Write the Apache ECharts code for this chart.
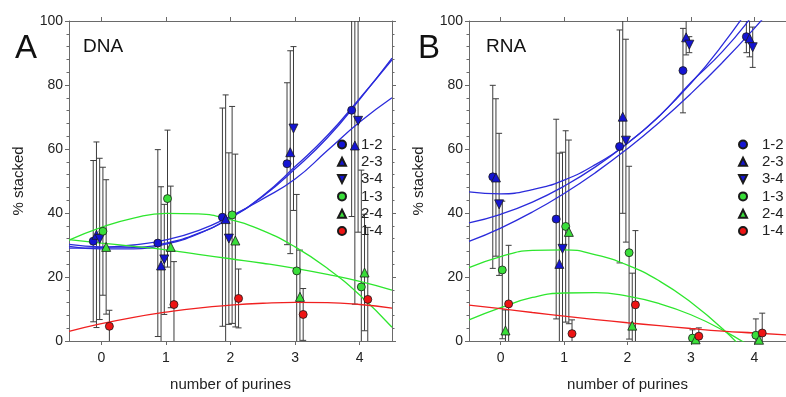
<!DOCTYPE html>
<html>
<head>
<meta charset="utf-8">
<script src="https://cdn.jsdelivr.net/npm/echarts@6/dist/echarts.min.js"></script>
<style>
html, body { margin: 0; padding: 0; background: #fff; }
#chart { width: 786px; height: 397px; }
</style>
</head>
<body>
<div id="chart"></div>
<script>
// x groups and the small sideways shift of each pair inside a group
const purines = [0, 1, 2, 3, 4]
const offsets = [-0.125, -0.075, -0.025, 0.025, 0.075, 0.125]
const pairs = ['1-2', '2-3', '3-4', '1-3', '2-4', '1-4']
const yTicks = [0, 20, 40, 60, 80, 100]

// DNA means and sd, one value per number of purines
const dna12 = [31.2, 30.6, 38.7, 55.4, 72.1]
const dna23 = [33.2, 23.6, 38.1, 59.0, 61.1]
const dna34 = [31.9, 25.5, 32.0, 66.4, 68.8]
const dna13 = [34.3, 44.5, 39.4, 21.9, 16.9]
const dna24 = [29.4, 29.4, 31.4, 13.8, 21.4]
const dna14 = [4.6, 11.4, 13.3, 8.3, 13.0]
const dna12Sd = [25.2, 29.2, 34.1, 25.3, 33.2]
const dna23Sd = [29.0, 24.6, 38.8, 31.7, 49.6]
const dna34Sd = [25.2, 17.2, 26.8, 25.6, 34.8]
const dna13Sd = [20.0, 21.4, 33.9, 23.9, 36.5]
const dna24Sd = [21.0, 19.0, 27.0, 14.6, 18.2]
const dna14Sd = [5.0, 13.4, 9.2, 8.1, 22.5]

// RNA means and sd
const rna12 = [51.3, 38.1, 60.8, 84.5, 95.1]
const rna23 = [51.1, 24.1, 70.1, 94.9, 94.6]
const rna34 = [42.7, 28.8, 62.6, 92.6, 91.8]
const rna13 = [22.2, 35.8, 27.6, 0.9, 1.8]
const rna24 = [3.3, 34.1, 4.8, 0.5, 0.4]
const rna14 = [11.6, 2.3, 11.3, 1.5, 2.5]
const rna12Sd = [28.6, 31.2, 36.4, 13.2, 5.0]
const rna23Sd = [24.6, 34.6, 30.2, 5.5, 5.8]
const rna34Sd = [22.2, 30.2, 31.7, 2.5, 6.3]
const rna13Sd = [21.5, 29.9, 27.0, 2.6, 5.1]
const rna24Sd = [6.4, 28.7, 16.4, 1.0, 1.0]
const rna14Sd = [18.3, 4.3, 23.2, 2.6, 6.2]

const fitX = [-0.5, 0, 0.5, 1, 1.5, 2, 2.5, 3, 3.5, 4, 4.5]
const dnaBlueFit1 = [30.2, 29.4, 29.3, 30.6, 33.6, 38.5, 45.2, 53.8, 63.5, 75.5, 88.4]
const dnaBlueFit2 = [29.6, 28.8, 28.8, 30.3, 33.5, 38.6, 45.4, 54.5, 64.2, 75.8, 87.9]
const dnaBlueFit3 = [29.0, 29.2, 30.0, 31.6, 34.5, 39.0, 44.4, 50.6, 59.5, 68.4, 76.0]
const dnaGreenFit1 = [31.5, 35.5, 38.4, 39.9, 39.7, 37.9, 34.5, 29.4, 22.7, 14.4, 4.3]
const dnaGreenFit2 = [31.7, 30.6, 29.6, 28.5, 27.1, 25.7, 24.3, 22.7, 20.8, 18.6, 15.9]
const dnaRedFit = [3.0, 5.4, 7.4, 9.0, 10.3, 11.2, 11.8, 12.1, 12.0, 11.4, 10.3]
const rnaBlueFit1 = [46.6, 46.0, 47.3, 50.3, 55.2, 61.8, 70.3, 80.5, 92.6, 106.4, 122.0]
const rnaBlueFit2 = [36.9, 39.6, 43.4, 48.4, 54.5, 61.8, 70.2, 80.8, 90.5, 102.4, 115.4]
const rnaBlueFit3 = [31.1, 35.3, 40.3, 46.1, 52.7, 60.1, 68.3, 77.3, 87.1, 97.7, 109.1]
const rnaGreenFit1 = [22.9, 26.4, 28.3, 28.5, 26.9, 23.7, 18.8, 12.1, 3.8, -6.2, -17.9]
const rnaGreenFit2 = [6.6, 10.4, 13.6, 15.0, 15.1, 14.0, 11.7, 8.2, 3.4, -2.5, -9.7]
const rnaRedFit = [11.2, 10.1, 8.9, 7.8, 6.7, 5.7, 4.8, 3.9, 3.1, 2.5, 1.9]

const BLUE = '#1414d2'
const GREEN = '#3ade3a'
const RED = '#ee1414'
const BLUE_LINE = '#2b2bdb'
const GREEN_LINE = '#2ee62e'
const RED_LINE = '#f02020'
const FONT = "'Liberation Sans', Arial, sans-serif"
const AXIS_COLOR = '#6a6a6a'
const DOWN_TRIANGLE = 'path://M0,0L10,0L5,10Z'

const markStyle = {
  '1-2': { color: BLUE, symbol: 'circle', rotate: 0 },
  '2-3': { color: BLUE, symbol: 'triangle', rotate: 0 },
  '3-4': { color: BLUE, symbol: 'triangle', rotate: 180 },
  '1-3': { color: GREEN, symbol: 'circle', rotate: 0 },
  '2-4': { color: GREEN, symbol: 'triangle', rotate: 0 },
  '1-4': { color: RED, symbol: 'circle', rotate: 0 }
}

const dnaMeans = [dna12, dna23, dna34, dna13, dna24, dna14]
const dnaSds = [dna12Sd, dna23Sd, dna34Sd, dna13Sd, dna24Sd, dna14Sd]
const rnaMeans = [rna12, rna23, rna34, rna13, rna24, rna14]
const rnaSds = [rna12Sd, rna23Sd, rna34Sd, rna13Sd, rna24Sd, rna14Sd]

const errorBar = (params, api) => {
  const x = api.value(0)
  const hi = api.coord([x, api.value(2)])
  const lo = api.coord([x, api.value(1)])
  const half = 3
  const style = { stroke: '#3c3c3c', lineWidth: 1 }
  return {
    type: 'group',
    children: [
      { type: 'line', shape: { x1: hi[0], y1: hi[1], x2: lo[0], y2: lo[1] }, style },
      { type: 'line', shape: { x1: hi[0] - half, y1: hi[1], x2: hi[0] + half, y2: hi[1] }, style },
      { type: 'line', shape: { x1: lo[0] - half, y1: lo[1], x2: lo[0] + half, y2: lo[1] }, style }
    ]
  }
}

const panelSeries = (means, sds, fits, xIdx, yIdx) => {
  const bars = []
  pairs.forEach((p, k) => {
    purines.forEach((g, i) => {
      bars.push([g + offsets[k], means[k][i] - sds[k][i], means[k][i] + sds[k][i]])
    })
  })
  const out = [{
    type: 'custom',
    xAxisIndex: xIdx,
    yAxisIndex: yIdx,
    renderItem: errorBar,
    clip: true,
    silent: true,
    z: 1,
    encode: { x: 0, y: [1, 2] },
    data: bars
  }]
  fits.forEach(f => {
    out.push({
      type: 'line',
      xAxisIndex: xIdx,
      yAxisIndex: yIdx,
      smooth: true,
      showSymbol: false,
      silent: true,
      clip: true,
      z: 2,
      lineStyle: { color: f.color, width: 1.3 },
      data: fitX.map((x, i) => [x, f.values[i]])
    })
  })
  pairs.forEach((p, k) => {
    const s = markStyle[p]
    out.push({
      name: p,
      type: 'scatter',
      xAxisIndex: xIdx,
      yAxisIndex: yIdx,
      symbol: s.symbol,
      symbolRotate: s.rotate,
      symbolSize: s.symbol === 'circle' ? 8 : 9,
      z: 3,
      itemStyle: { color: s.color, borderColor: '#1a1a1a', borderWidth: 0.8, opacity: 1 },
      data: purines.map((g, i) => [g + offsets[k], means[k][i]])
    })
  })
  return out
}

const xBottom = (gridIndex) => ({
  type: 'value',
  gridIndex,
  min: -0.5,
  max: 4.5,
  name: 'number of purines',
  nameLocation: 'middle',
  nameGap: 36,
  nameTextStyle: { fontSize: 15, color: '#222', fontFamily: FONT },
  axisLine: { show: true, onZero: false, lineStyle: { color: AXIS_COLOR } },
  axisTick: { show: true, length: 4, customValues: purines, lineStyle: { color: AXIS_COLOR } },
  axisLabel: { customValues: purines, fontSize: 14, color: '#222', fontFamily: FONT, margin: 10 },
  splitLine: { show: false }
})
const xTop = (gridIndex) => ({
  type: 'value',
  gridIndex,
  position: 'top',
  min: -0.5,
  max: 4.5,
  axisLine: { show: true, onZero: false, lineStyle: { color: AXIS_COLOR } },
  axisTick: { show: true, length: 4, customValues: purines, lineStyle: { color: AXIS_COLOR } },
  axisLabel: { show: false },
  splitLine: { show: false }
})
const yLeft = (gridIndex) => ({
  type: 'value',
  gridIndex,
  min: 0,
  max: 100,
  interval: 20,
  name: '% stacked',
  nameLocation: 'middle',
  nameGap: 43,
  nameTextStyle: { fontSize: 15, color: '#222', fontFamily: FONT },
  axisLine: { show: true, onZero: false, lineStyle: { color: AXIS_COLOR } },
  axisTick: { show: true, length: 4, lineStyle: { color: AXIS_COLOR } },
  minorTick: { show: true, splitNumber: 5, length: 2.5, lineStyle: { color: AXIS_COLOR } },
  axisLabel: { fontSize: 14, color: '#222', fontFamily: FONT, margin: 6,
    customValues: yTicks },
  splitLine: { show: false }
})
const yRight = (gridIndex) => ({
  type: 'value',
  gridIndex,
  position: 'right',
  min: 0,
  max: 100,
  interval: 20,
  axisLine: { show: true, onZero: false, lineStyle: { color: AXIS_COLOR } },
  axisTick: { show: true, length: 4, lineStyle: { color: AXIS_COLOR } },
  minorTick: { show: true, splitNumber: 5, length: 2.5, lineStyle: { color: AXIS_COLOR } },
  axisLabel: { show: false },
  splitLine: { show: false }
})

const legendFor = (left) => ({
  orient: 'vertical',
  left,
  top: 132,
  itemWidth: 8,
  itemHeight: 8,
  itemGap: 2.3,
  selectedMode: false,
  data: pairs.map(p => p === '3-4' ? { name: p, icon: DOWN_TRIANGLE } : { name: p }),
  textStyle: { fontSize: 15, lineHeight: 15, color: '#222', fontFamily: FONT, padding: [0, 0, 0, 10] }
})

const chart = echarts.init(document.getElementById('chart'), null, { renderer: 'canvas' })
chart.setOption({
  animation: false,
  backgroundColor: '#fff',
  title: [
    { text: 'A', left: 10, top: 27, textStyle: { fontSize: 33, fontWeight: 'normal', color: '#111', fontFamily: FONT } },
    { text: 'DNA', left: 78, top: 32, textStyle: { fontSize: 19, fontWeight: 'normal', color: '#111', fontFamily: FONT } },
    { text: 'B', left: 413, top: 27, textStyle: { fontSize: 33, fontWeight: 'normal', color: '#111', fontFamily: FONT } },
    { text: 'RNA', left: 481, top: 32, textStyle: { fontSize: 19, fontWeight: 'normal', color: '#111', fontFamily: FONT } }
  ],
  grid: [
    { left: 69, top: 21, width: 323, height: 323, containLabel: false },
    { left: 469, top: 21, width: 325, height: 323, containLabel: false }
  ],
  legend: [legendFor(332), legendFor(733)],
  xAxis: [xBottom(0), xTop(0), xBottom(1), xTop(1)],
  yAxis: [yLeft(0), yRight(0), yLeft(1), yRight(1)],
  series: [
    ...panelSeries(dnaMeans, dnaSds, [
      { color: BLUE_LINE, values: dnaBlueFit1 },
      { color: BLUE_LINE, values: dnaBlueFit2 },
      { color: BLUE_LINE, values: dnaBlueFit3 },
      { color: GREEN_LINE, values: dnaGreenFit1 },
      { color: GREEN_LINE, values: dnaGreenFit2 },
      { color: RED_LINE, values: dnaRedFit }
    ], 0, 0),
    ...panelSeries(rnaMeans, rnaSds, [
      { color: BLUE_LINE, values: rnaBlueFit1 },
      { color: BLUE_LINE, values: rnaBlueFit2 },
      { color: BLUE_LINE, values: rnaBlueFit3 },
      { color: GREEN_LINE, values: rnaGreenFit1 },
      { color: GREEN_LINE, values: rnaGreenFit2 },
      { color: RED_LINE, values: rnaRedFit }
    ], 2, 2)
  ]
})
</script>
</body>
</html>
